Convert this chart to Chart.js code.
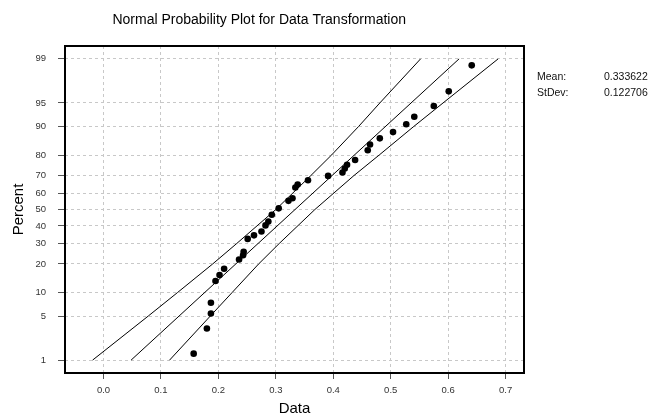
<!DOCTYPE html>
<html>
<head>
<meta charset="utf-8">
<script src="https://cdn.jsdelivr.net/npm/chart.js@4/dist/chart.umd.min.js"></script>
<style>
  html, body { margin: 0; padding: 0; background: #fff; }
  #wrap { width: 649px; height: 418px; }
</style>
</head>
<body>
<div id="wrap"><canvas id="chart-canvas"></canvas></div>
<script>
// observed values and the percent they are plotted at
const dataX = [0.157, 0.180, 0.187, 0.187, 0.195, 0.202, 0.210, 0.236, 0.243, 0.244, 0.251, 0.262,
               0.275, 0.282, 0.287, 0.293, 0.305, 0.322, 0.329, 0.334, 0.338, 0.356, 0.391, 0.416,
               0.420, 0.424, 0.438, 0.460, 0.464, 0.481, 0.504, 0.527, 0.541, 0.575, 0.601, 0.641]
const dataPct = [1.3, 3.3, 5.4, 7.5, 13.5, 15.6, 18.0, 22.0, 24.0, 25.7, 32.5, 34.5,
                 36.7, 40.3, 42.6, 46.8, 50.7, 55.3, 56.9, 63.3, 65.0, 67.4, 69.8, 71.6,
                 73.7, 75.5, 77.8, 82.0, 84.2, 86.4, 88.4, 90.6, 92.4, 94.5, 96.6, 98.7]

// fitted line and confidence band, read at these percents
const fitPct = [1, 99]
const fitX = [0.048, 0.619]
const bandPct = [1, 5, 10, 20, 30, 50, 70, 80, 90, 95, 99]
const bandLow = [-0.019, 0.078, 0.129, 0.190, 0.232, 0.300, 0.361, 0.397, 0.444, 0.481, 0.552]
const bandHigh = [0.115, 0.186, 0.224, 0.270, 0.306, 0.368, 0.436, 0.480, 0.540, 0.591, 0.687]

const xTicks = [0.0, 0.1, 0.2, 0.3, 0.4, 0.5, 0.6, 0.7]
const yTicks = [1, 5, 10, 20, 30, 40, 50, 60, 70, 80, 90, 95, 99]
const statLabels = ['Mean:', 'StDev:']
const statValues = ['0.333622', '0.122706']
const title = 'Normal Probability Plot for Data Transformation'

const FONT = '"Liberation Sans", Arial, sans-serif'

// inverse normal cdf, gives the probability axis
function probit(p) {
    const a = [-39.69683028665376, 220.9460984245205, -275.9285104469687, 138.3577518672690, -30.66479806614716, 2.506628277459239]
    const b = [-54.47609879822406, 161.5858368580409, -155.6989798598866, 66.80131188771972, -13.28068155922803]
    const c = [-0.007784894002430293, -0.3223964580411365, -2.400758277161838, -2.549732539343734, 4.374664141464968, 2.938163982698783]
    const d = [0.007784695709041462, 0.3224671290700398, 2.445134137142996, 3.754408661907416]
    const lo = 0.02425
    if (p < lo) {
        const q = Math.sqrt(-2 * Math.log(p))
        return (((((c[0]*q+c[1])*q+c[2])*q+c[3])*q+c[4])*q+c[5]) / ((((d[0]*q+d[1])*q+d[2])*q+d[3])*q+1)
    }
    if (p > 1 - lo) {
        const q = Math.sqrt(-2 * Math.log(1 - p))
        return -(((((c[0]*q+c[1])*q+c[2])*q+c[3])*q+c[4])*q+c[5]) / ((((d[0]*q+d[1])*q+d[2])*q+d[3])*q+1)
    }
    const q = p - 0.5
    const r = q * q
    return (((((a[0]*r+a[1])*r+a[2])*r+a[3])*r+a[4])*r+a[5])*q / (((((b[0]*r+b[1])*r+b[2])*r+b[3])*r+b[4])*r+1)
}

const pts = (xs, ps) => xs.map((x, i) => ({ x: x, y: probit(ps[i] / 100) }))

const lineSet = (xs, ps) => ({
    data: pts(xs, ps),
    showLine: true,
    borderColor: '#000',
    borderWidth: 1,
    pointRadius: 0,
    tension: 0,
    fill: false
})

const texts = {
    id: 'texts',
    afterDraw(chart) {
        const { ctx, chartArea } = chart
        ctx.save()
        ctx.strokeStyle = '#000'
        ctx.lineWidth = 2
        ctx.strokeRect(chartArea.left, chartArea.top, chartArea.right - chartArea.left, chartArea.bottom - chartArea.top)
        ctx.fillStyle = '#000'
        ctx.textBaseline = 'middle'
        ctx.textAlign = 'right'
        ctx.font = '14px ' + FONT
        ctx.fillText(title, 406, 20)
        ctx.textAlign = 'left'
        ctx.font = '10.5px ' + FONT
        ctx.fillStyle = '#111'
        statLabels.forEach((s, i) => {
            ctx.fillText(s, 537, 77 + i * 16.6)
            ctx.fillText(statValues[i], 604, 77 + i * 16.6)
        })
        ctx.restore()
    }
}

new Chart(document.getElementById('chart-canvas'), {
    type: 'scatter',
    data: {
        datasets: [
            {
                data: pts(dataX, dataPct),
                backgroundColor: '#000',
                borderWidth: 0,
                pointRadius: 3.3
            },
            lineSet(fitX, fitPct),
            lineSet(bandLow, bandPct),
            lineSet(bandHigh, bandPct)
        ]
    },
    options: {
        responsive: true,
        maintainAspectRatio: false,
        animation: false,
        layout: { padding: { top: 46, right: 125, left: 0, bottom: 0 } },
        plugins: { legend: { display: false }, tooltip: { enabled: false } },
        scales: {
            x: {
                type: 'linear',
                min: -0.067,
                max: 0.732,
                afterBuildTicks: (s) => { s.ticks = xTicks.map(v => ({ value: v })) },
                afterFit: (s) => { s.height = 45 },
                ticks: {
                    callback: (v) => v.toFixed(1),
                    color: '#333',
                    padding: 6,
                    maxRotation: 0,
                    font: { family: FONT, size: 9.5 }
                },
                grid: { color: '#c8c8c8', tickColor: '#555', tickLength: 6 },
                border: { display: false, dash: [3, 3] },
                title: { display: true, text: 'Data', color: '#000', padding: { top: 0, bottom: 0 }, font: { family: FONT, size: 15 } }
            },
            y: {
                type: 'linear',
                min: -2.525,
                max: 2.525,
                afterBuildTicks: (s) => { s.ticks = yTicks.map(p => ({ value: probit(p / 100) })) },
                afterFit: (s) => { s.width = 65 },
                ticks: {
                    callback: (v, i) => String(yTicks[i]),
                    color: '#333',
                    padding: 12,
                    font: { family: FONT, size: 9.5 }
                },
                grid: { color: '#c8c8c8', tickColor: '#555', tickLength: 7 },
                border: { display: false, dash: [3, 3] },
                title: { display: true, text: 'Percent', color: '#000', padding: { top: 10, bottom: 0 }, font: { family: FONT, size: 15 } }
            }
        }
    },
    plugins: [texts]
})
</script>
</body>
</html>
